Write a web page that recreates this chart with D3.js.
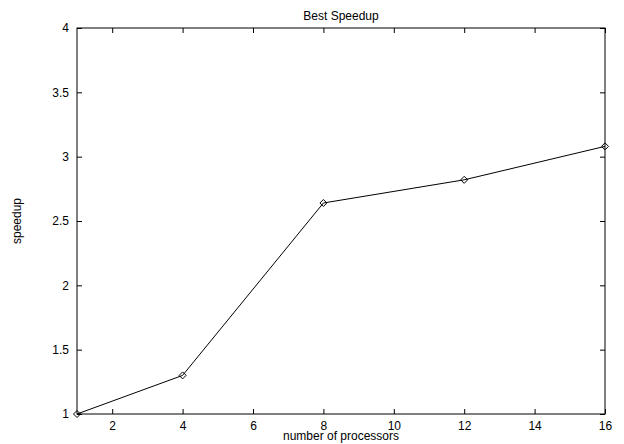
<!DOCTYPE html>
<html>
<head>
<meta charset="utf-8">
<script src="https://cdn.jsdelivr.net/npm/d3@7"></script>
<style>
  body { margin: 0; background: #fff; }
  svg { display: block; font-family: "Liberation Sans", Arial, sans-serif; }
</style>
</head>
<body>
<svg id="chart" width="624" height="444"></svg>
<script>
// data
const processors = [1, 4, 8, 12, 16];
const speedup = [1.0, 1.3, 2.64, 2.82, 3.08];
const xTicks = [2, 4, 6, 8, 10, 12, 14, 16];
const yTicks = [1, 1.5, 2, 2.5, 3, 3.5, 4];

const svg = d3.select("#chart"),
      margin = { top: 28, right: 19, bottom: 30, left: 77 },
      width = +svg.attr("width") - margin.left - margin.right,
      height = +svg.attr("height") - margin.top - margin.bottom;

const g = svg.append("g")
  .attr("transform", `translate(${margin.left}, ${margin.top})`);

const x = d3.scaleLinear().domain([1, 16]).range([0, width]);
const y = d3.scaleLinear().domain([1, 4]).range([height, 0]);

// axes, ticks pointing inward on all four sides
const styleAxis = sel => {
  sel.select(".domain").remove();
  sel.selectAll("line").attr("stroke", "#000");
  sel.selectAll("text").attr("fill", "#000").attr("font-size", "12px");
};

g.append("g")
  .attr("transform", `translate(0, ${height})`)
  .call(d3.axisBottom(x).tickValues(xTicks).tickSizeInner(-5).tickSizeOuter(0).tickPadding(7).tickFormat(d3.format("d")))
  .call(styleAxis);

g.append("g")
  .call(d3.axisTop(x).tickValues(xTicks).tickSizeInner(-5).tickSizeOuter(0).tickFormat(""))
  .call(styleAxis);

g.append("g")
  .call(d3.axisLeft(y).tickValues(yTicks).tickSizeInner(-5).tickSizeOuter(0).tickPadding(8).tickFormat(d => d3.format("")(d)))
  .call(styleAxis);

g.append("g")
  .attr("transform", `translate(${width}, 0)`)
  .call(d3.axisRight(y).tickValues(yTicks).tickSizeInner(-5).tickSizeOuter(0).tickFormat(""))
  .call(styleAxis);

// frame
g.append("rect")
  .attr("x", 0).attr("y", 0)
  .attr("width", width).attr("height", height)
  .attr("fill", "none")
  .attr("stroke", "#000")
  .attr("stroke-width", 1);

const points = processors.map((p, i) => [p, speedup[i]]);

const line = d3.line().x(d => x(d[0])).y(d => y(d[1]));

g.append("path")
  .datum(points)
  .attr("d", line)
  .attr("fill", "none")
  .attr("stroke", "#000")
  .attr("stroke-width", 1);

g.selectAll(".pt")
  .data(points)
  .join("path")
  .attr("class", "pt")
  .attr("transform", d => `translate(${x(d[0])}, ${y(d[1])})`)
  .attr("d", "M0,-3.5L3.5,0L0,3.5L-3.5,0Z")
  .attr("fill", "none")
  .attr("stroke", "#000")
  .attr("stroke-width", 1);

// titles
svg.append("text")
  .attr("x", margin.left + width / 2)
  .attr("y", 20)
  .attr("text-anchor", "middle")
  .attr("font-size", "12px")
  .text("Best Speedup");

svg.append("text")
  .attr("x", margin.left + width / 2)
  .attr("y", 440)
  .attr("text-anchor", "middle")
  .attr("font-size", "12px")
  .text("number of processors");

svg.append("text")
  .attr("transform", `translate(21, ${margin.top + height / 2}) rotate(-90)`)
  .attr("text-anchor", "middle")
  .attr("font-size", "12px")
  .text("speedup");
</script>
</body>
</html>
